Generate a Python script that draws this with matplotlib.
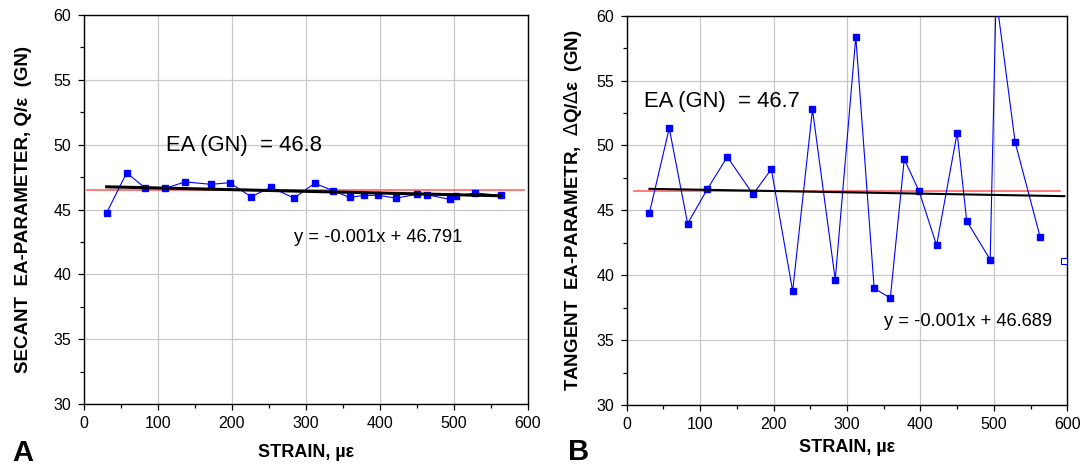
import matplotlib
matplotlib.use("Agg")
import matplotlib.pyplot as plt
import numpy as np
from matplotlib.ticker import MultipleLocator

plt.rcParams['font.family'] = ['Liberation Sans', 'DejaVu Sans']

strain = [31, 58, 83, 110, 137, 172, 197, 226, 253, 284, 312, 337, 359, 378,
          398, 422, 450, 463, 495, 503, 529, 563]
secant = [44.74, 47.83, 46.66, 46.63, 47.13, 46.94, 47.07, 45.99, 46.71, 45.88,
          47.02, 46.45, 45.93, 46.09, 46.09, 45.88, 46.17, 46.14, 45.78, 46.04,
          46.27, 46.09]
tangent = [44.8, 51.33, 43.98, 46.65, 49.12, 46.24, 48.17, 38.78, 52.78, 39.66,
           58.38, 38.99, 38.24, 48.94, 46.5, 42.31, 50.97, 44.18, 41.2, 61.5,
           50.23, 42.95]
extra_strain = [596]
extra_tangent = [41.07]

sec_slope, sec_icpt = -0.0013, 46.791
tan_slope, tan_icpt = -0.001, 46.689
ref_level = 46.5
sec_ea_text = "EA (GN)  = 46.8"
tan_ea_text = "EA (GN)  = 46.7"
sec_eq_text = "y = -0.001x + 46.791"
tan_eq_text = "y = -0.001x + 46.689"

fig = plt.figure(figsize=(10.84, 4.69), dpi=100)
axA = fig.add_axes([0.0772, 0.1386, 0.4099, 0.8294])
axB = fig.add_axes([0.5781, 0.1365, 0.4065, 0.8300])


def style(ax, xlabelpad):
    ax.set_xlim(0, 600)
    ax.set_ylim(30, 60)
    ax.xaxis.set_major_locator(MultipleLocator(100))
    ax.xaxis.set_minor_locator(MultipleLocator(50))
    ax.yaxis.set_major_locator(MultipleLocator(5))
    ax.yaxis.set_minor_locator(MultipleLocator(2.5))
    ax.grid(True, which='major', color='#c8c8c8', lw=0.9)
    ax.set_axisbelow(True)
    ax.tick_params(which='major', direction='out', length=4, width=0.9, labelsize=11.5, pad=5)
    ax.tick_params(which='minor', direction='out', length=3, width=0.9)
    for s in ax.spines.values():
        s.set_linewidth(1.0)
        s.set_color('black')
    ax.set_xlabel("STRAIN, µε", fontsize=13, fontweight='bold', labelpad=xlabelpad)


style(axA, 9)
style(axB, 5)

xs = np.array([strain[0], strain[-1]])
# Panel A
axA.plot([5, 595], [ref_level, ref_level], color='#ff6464', lw=1.2, zorder=2)
axA.plot(strain, secant, color='blue', lw=0.8, marker='s', ms=4.5, mfc='blue', mec='blue', zorder=3)
axA.plot(xs, sec_slope * xs + sec_icpt, color='black', lw=2.2, zorder=4)
axA.text(111, 49.95, sec_ea_text, fontsize=15.8, va='center', ha='left')
axA.text(284, 42.85, sec_eq_text, fontsize=13.2, va='center', ha='left')
axA.set_ylabel("SECANT  EA-PARAMETER, Q/ε  (GN)", fontsize=13.5, fontweight='bold', labelpad=15)

# Panel B
xb = np.array([strain[0], extra_strain[0]])
axB.plot([10, 590], [ref_level, ref_level], color='#ff6464', lw=1.2, zorder=2)
axB.plot(strain, tangent, color='blue', lw=0.8, marker='s', ms=4.5, mfc='blue', mec='blue', zorder=3)
axB.plot(extra_strain, extra_tangent, ls='none', marker='s', ms=4.5, mfc='white', mec='blue', mew=0.8, zorder=3, clip_on=False)
axB.plot(xb, tan_slope * xb + tan_icpt, color='black', lw=1.5, zorder=4)
axB.text(24, 53.4, tan_ea_text, fontsize=15.8, va='center', ha='left')
axB.text(350, 36.4, tan_eq_text, fontsize=13.2, va='center', ha='left')
axB.set_ylabel(r"TANGENT  EA-PARAMETR,  $\Delta$Q/$\Delta$ε  (GN)", fontsize=13.5, fontweight='bold', labelpad=9)

fig.text(12 / 1084, 1 - 453 / 469, "A", fontsize=21, fontweight='bold', va='center', ha='left')
fig.text(568 / 1084, 1 - 452 / 469, "B", fontsize=21, fontweight='bold', va='center', ha='left')

fig.savefig("out.png", dpi=100)
